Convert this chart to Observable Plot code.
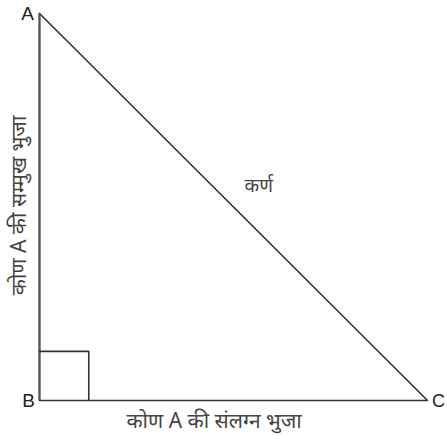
<!DOCTYPE html>
<html><head><meta charset="utf-8">
<script src="https://cdn.jsdelivr.net/npm/d3@7"></script>
<script src="https://cdn.jsdelivr.net/npm/@observablehq/plot@0.6"></script>
<style>body{margin:0;background:#fff;} svg{display:block;}</style>
</head><body><div id="chart"></div>
<script>
const vertexNames = ["A", "B", "C"];
const vertexX = [0, 0, 10];
const vertexY = [10, 0, 0];
const squareSize = 1.27;
const sideLabels = ["कर्ण", "कोण A की सम्मुख भुजा", "कोण A की संलग्न भुजा"];

const tri = [0, 1, 2, 0].map(i => ({x: vertexX[i], y: vertexY[i]}));
const sq = [[0, squareSize], [squareSize, squareSize], [squareSize, 0]].map(([x, y]) => ({x, y}));
const verts = vertexNames.map((n, i) => ({name: n, x: vertexX[i], y: vertexY[i]}));
const vfont = "Liberation Sans, Arial, sans-serif";
const hfont = "Noto Sans, sans-serif";

const chart = Plot.plot({
  width: 447, height: 439,
  margin: 0,
  style: {overflow: "hidden"},
  x: {domain: [0, 10], range: [39, 427], axis: null},
  y: {domain: [0, 10], range: [400, 13], axis: null},
  marks: [
    Plot.line(tri, {x: "x", y: "y", stroke: "#333", strokeWidth: 1.6}),
    Plot.ruleX([0], {y1: 0, y2: 10, stroke: "#555", strokeWidth: 2}),
    Plot.line(sq, {x: "x", y: "y", stroke: "#333", strokeWidth: 1.6}),
    Plot.text(verts.filter(d => d.name === "A"), {x: "x", y: "y", text: "name", fontSize: 19, fill: "#222", fontFamily: vfont, dx: -12, dy: 0}),
    Plot.text(verts.filter(d => d.name === "B"), {x: "x", y: "y", text: "name", fontSize: 19, fill: "#222", fontFamily: vfont, dx: -11, dy: 0}),
    Plot.text(verts.filter(d => d.name === "C"), {x: "x", y: "y", text: "name", fontSize: 18, fill: "#222", fontFamily: vfont, dx: 11, dy: 1}),
    Plot.text([sideLabels[0]], {x: 5.65, y: 5.55, text: d => d, fontSize: 19, fill: "#444", fontFamily: hfont}),
    Plot.text([sideLabels[1]], {x: 0, y: 5.04, text: d => d, fontSize: 21, fill: "#444", fontFamily: hfont, rotate: -90, dx: -20}),
    Plot.text([sideLabels[2]], {x: 4.5, y: 0, text: d => d, fontSize: 21, fill: "#444", fontFamily: hfont, dy: 21})
  ]
});
document.getElementById("chart").append(chart);
</script></body></html>
